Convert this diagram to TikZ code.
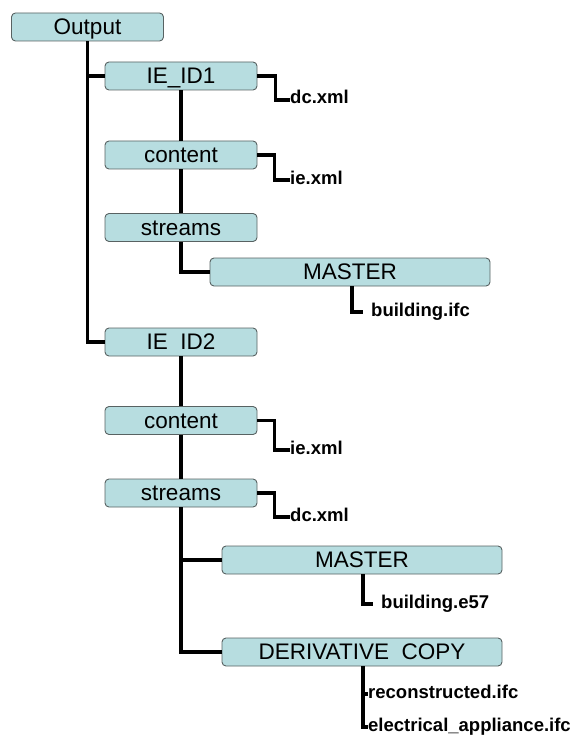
\documentclass[tikz,border=0pt]{standalone}
\usepackage{fontspec}
\setmainfont{Liberation Sans}
\usepackage{tikz}
\definecolor{boxfill}{RGB}{183,221,224}
\definecolor{boxline}{RGB}{88,98,98}
\tikzstyle{link} = [draw, line width=3.2pt, black]
\tikzstyle{folder} = [draw=boxline, fill=boxfill, line width=0.9pt, rectangle, rounded corners=4pt, text centered, minimum width=152pt, minimum height=28pt, inner sep=0pt, text height=15pt, text depth=0pt, font=\fontsize{22.5}{26}\selectfont]
\tikzstyle{wide} = [folder, minimum width=280pt]
\tikzstyle{file} = [anchor=west, inner xsep=0pt, inner ysep=0pt, text height=8pt, text depth=0pt, font=\fontsize{18.5}{22}\selectfont\bfseries]
\tikzstyle{spaced} = [file, inner xsep=8pt]

\begin{document}
\begin{tikzpicture}[x=1pt, y=-1pt]
        \useasboundingbox (0,0) rectangle (571,738);
        % first package
        \node[folder] (output) at (87.5,27) {Output};
        \node[folder] (ie1) at (181,76) {IE\_ID1};
        \node[folder] (content1) at (181,155) {content};
        \node[folder] (streams1) at (181,227.5) {streams};
        \node[wide] (master1) at (350,272) {MASTER};
        \node[file] (dc1) at (290,100) {dc.xml};
        \node[file] (iexml1) at (290,180) {ie.xml};
        \node[spaced] (ifc1) at (363,312) {building.ifc};
        % second package
        \node[folder] (ie2) at (181,342) {IE\phantom{\_}ID2};
        \node[folder] (content2) at (181,420.5) {content};
        \node[folder] (streams2) at (181,493) {streams};
        \node[wide] (master2) at (362,560) {MASTER};
        \node[wide] (derived) at (362,652) {DERIVATIVE\ \ COPY};
        \node[file] (iexml2) at (290,450) {ie.xml};
        \node[file] (dc2) at (290,517) {dc.xml};
        \node[spaced] (e57) at (373,604) {building.e57};
        \node[file] (recon) at (368,694) {reconstructed.ifc};
        \node[file] (elec) at (368,727) {electrical\_appliance.ifc};
        \path[link] (output.south) |- (ie1.west);
        \path[link] (output.south) |- (ie2.west);
        \path[link] (ie1.east) -- ++(18,0) |- (dc1.west);
        \path[link] (ie1) -- (content1);
        \path[link] (content1.east) -- ++(17,0) |- (iexml1.west);
        \path[link] (content1) -- (streams1);
        \path[link] (streams1.south) |- (master1.west);
        \path[link] ([xshift=2pt]master1.south) |- (ifc1.west);
        \path[link] (ie2) -- (content2);
        \path[link] (content2.east) -- ++(17,0) |- (iexml2.west);
        \path[link] (content2) -- (streams2);
        \path[link] (streams2.east) -- ++(17,0) |- (dc2.west);
        \path[link] (streams2.south) |- (master2.west);
        \path[link] (streams2.south) |- (derived.west);
        \path[link] ([xshift=1pt]master2.south) |- (e57.west);
        \path[link] ([xshift=1pt]derived.south) |- (recon.west);
        \path[link] ([xshift=1pt]derived.south) |- (elec.west);
    \end{tikzpicture}
\end{document}
